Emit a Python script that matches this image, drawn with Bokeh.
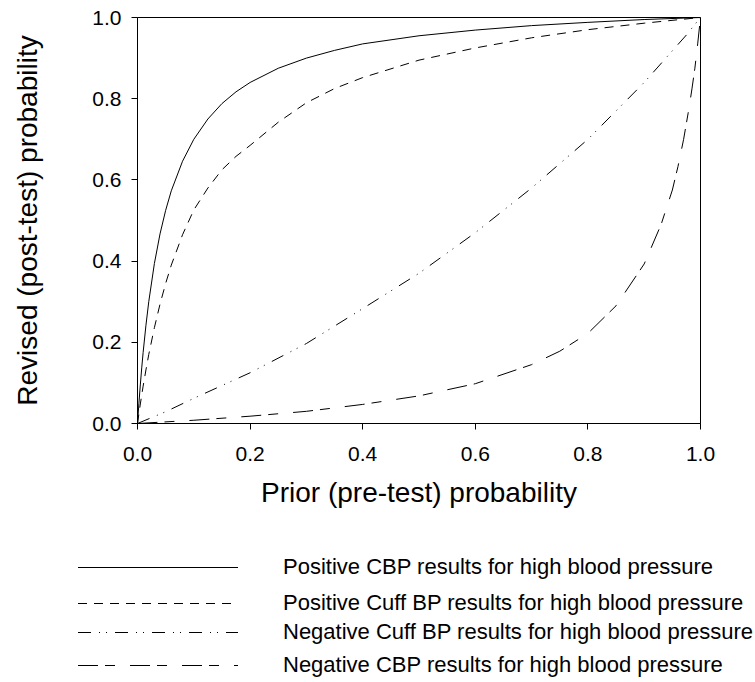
from bokeh.plotting import figure
from bokeh.models import Range1d, FixedTicker, PrintfTickFormatter, Div
from bokeh.layouts import column
from bokeh.embed import file_html
from bokeh.resources import INLINE

# ---- data ----
prior_pos = [0, 0.0025, 0.005, 0.0075, 0.01, 0.015, 0.02, 0.03, 0.04, 0.05,
             0.06, 0.08, 0.1, 0.125, 0.15, 0.175, 0.2, 0.25, 0.3, 0.35, 0.4,
             0.5, 0.6, 0.7, 0.8, 0.9, 1.0]
post_pos_cbp = [0, 0.050, 0.095, 0.137, 0.175, 0.242, 0.30, 0.394, 0.467,
                0.525, 0.573, 0.646, 0.70, 0.75, 0.788, 0.817, 0.84, 0.875,
                0.90, 0.919, 0.935, 0.955, 0.969, 0.98, 0.988, 0.995, 1.0]
post_pos_cuff = [0, 0.024, 0.048, 0.070, 0.092, 0.132, 0.17, 0.236, 0.294,
                 0.345, 0.39, 0.465, 0.526, 0.58, 0.625, 0.658, 0.685, 0.742,
                 0.79, 0.825, 0.852, 0.895, 0.925, 0.95, 0.97, 0.986, 1.0]

prior_neg_cuff = [0, 0.05, 0.1, 0.2, 0.3, 0.4, 0.5, 0.6, 0.7, 0.8, 0.9, 0.95,
                  0.975, 0.99, 1.0]
post_neg_cuff = [0, 0.029, 0.062, 0.125, 0.197, 0.283, 0.37, 0.47, 0.58,
                 0.70, 0.84, 0.918, 0.957, 0.983, 1.0]

prior_neg_cbp = [0, 0.1, 0.2, 0.3, 0.4, 0.5, 0.6, 0.7, 0.75, 0.8, 0.85, 0.9,
                 0.93, 0.95, 0.96, 0.97, 0.98, 0.985, 0.99, 0.995, 1.0]
post_neg_cbp = [0, 0.008, 0.018, 0.03, 0.047, 0.068, 0.098, 0.145, 0.178,
                0.222, 0.29, 0.393, 0.49, 0.575, 0.633, 0.70, 0.78, 0.826,
                0.875, 0.935, 1.0]

series_labels = [
    "Positive CBP results for high blood pressure",
    "Positive Cuff BP results for high blood pressure",
    "Negative Cuff BP results for high blood pressure",
    "Negative CBP results for high blood pressure",
]
tick_values = [0.0, 0.2, 0.4, 0.6, 0.8, 1.0]
x_title = "Prior (pre-test) probability"
y_title = "Revised (post-test) probability"

FONT = "Liberation Sans"
dashes = ["solid", "9 7", "13 8 1 6 1 8", "20 7 10 15"]
series = [(prior_pos, post_pos_cbp), (prior_pos, post_pos_cuff),
          (prior_neg_cuff, post_neg_cuff), (prior_neg_cbp, post_neg_cbp)]

p = figure(width=755, height=530, output_backend="svg", toolbar_location=None,
           x_range=Range1d(0, 1), y_range=Range1d(0, 1),
           min_border_left=137, min_border_right=55, min_border_top=17,
           min_border_bottom=107)
p.grid.visible = False
p.outline_line_color = "black"
p.outline_line_width = 1
p.background_fill_color = "white"
p.border_fill_color = "white"

for (xs, ys), d in zip(series, dashes):
    p.line(xs, ys, line_color="black", line_width=1, line_dash=d)

for ax in (p.xaxis[0], p.yaxis[0]):
    ax.ticker = FixedTicker(ticks=tick_values)
    ax.formatter = PrintfTickFormatter(format="%.1f")
    ax.minor_tick_line_color = None
    ax.major_tick_in = 0
    ax.major_tick_out = 6
    ax.axis_line_color = "black"
    ax.major_tick_line_color = "black"
    ax.major_label_text_font = FONT
    ax.major_label_text_font_size = "21px"
    ax.major_label_text_color = "black"
    ax.axis_label_text_font = FONT
    ax.axis_label_text_font_size = "28px"
    ax.axis_label_text_font_style = "normal"
    ax.axis_label_text_color = "black"

p.xaxis[0].axis_label = x_title
p.yaxis[0].axis_label = y_title
p.xaxis[0].major_label_standoff = 17
p.yaxis[0].major_label_standoff = 10
p.xaxis[0].axis_label_standoff = 13
p.yaxis[0].axis_label_standoff = 46

# ---- legend block below the plot (key samples + labels) ----
row_centers = [37, 73, 102, 135]
parts = ['<div style="position:relative;width:755px;height:152px;'
         'font-family:\'Liberation Sans\';font-size:22px;color:#000;">']
for lab, d, yc in zip(series_labels, dashes, row_centers):
    dash_attr = "" if d == "solid" else f' stroke-dasharray="{d}"'
    parts.append(
        f'<svg style="position:absolute;left:78px;top:{yc - 5}px;" '
        f'width="160" height="10"><line x1="0" y1="5.5" x2="160" y2="5.5" '
        f'stroke="#000" stroke-width="1"{dash_attr}/></svg>'
        f'<div style="position:absolute;left:283px;top:{yc - 13}px;'
        f'line-height:26px;white-space:nowrap;">{lab}</div>')
parts.append('</div>')
legend_div = Div(text="".join(parts), width=755, height=152, margin=0)

layout = column(p, legend_div, spacing=0)
open("out.html", "w").write(file_html(layout, INLINE))
